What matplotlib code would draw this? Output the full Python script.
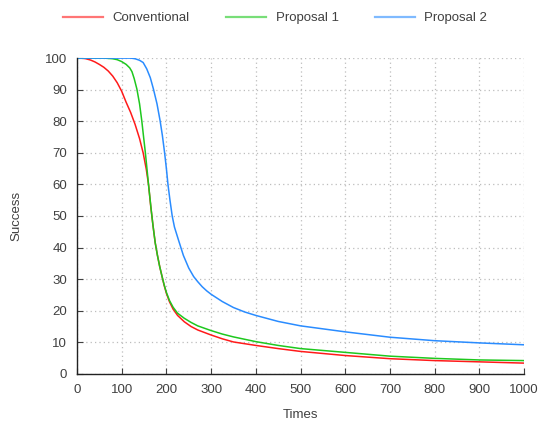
import matplotlib

matplotlib.use("Agg")

import matplotlib.pyplot as plt

# values
conv_x = [0, 10, 20, 30, 40, 50, 60, 70, 80, 90, 100, 110, 120, 130, 140, 148, 155, 160,
          165, 170, 175, 180, 185, 190, 195, 200, 207, 215, 225, 240, 255, 270, 300, 325,
          350, 400, 450, 500, 600, 700, 800, 900, 1000]
conv_y = [100, 100, 99.8, 99.4, 98.8, 98.0, 97.1, 95.9, 94.3, 92.2, 89.5, 86.0, 82.8,
          79.0, 74.5, 70.0, 64.8, 60.0, 53.0, 47.0, 41.5, 37.5, 34.0, 31.0, 28.0, 25.5,
          22.8, 20.5, 18.5, 16.5, 15.0, 13.9, 12.3, 11.1, 10.1, 9.0, 8.0, 7.1, 5.8, 4.8,
          4.2, 3.8, 3.4]

prop1_x = [0, 60, 70, 80, 90, 100, 110, 118, 123, 128, 134, 140, 145, 149, 153, 156.5,
           160, 163, 166, 170, 175, 180, 185, 190, 195, 200, 207, 215, 225, 240, 255, 270,
           300, 325, 350, 400, 450, 500, 600, 700, 800, 900, 1000]
prop1_y = [100, 100, 99.9, 99.8, 99.5, 98.9, 98.0, 96.9, 95.7, 93.5, 90.2, 85.5, 80.1,
           75.0, 70.0, 65.0, 60.0, 56.0, 52.0, 47.0, 41.5, 37.5, 34.0, 31.0, 28.2,
           25.8, 23.2, 21.1, 19.2, 17.6, 16.3, 15.2, 13.7, 12.6, 11.7, 10.2, 9.0, 8.0,
           6.8, 5.6, 4.9, 4.4, 4.2]

prop2_x = [0, 120, 130, 140, 148, 156, 164, 171, 179, 186, 191, 196, 200, 203.5,
           208, 213, 218, 227, 238, 250, 261, 270, 280, 290, 300, 325, 350, 375, 400, 450,
           500, 600, 700, 800, 900, 1000]
prop2_y = [100, 100, 99.8, 99.3, 98.6, 96.6, 93.8, 90.2, 85.5, 80.1, 75.5, 70.0, 65.0,
           60.0, 55.0, 50.0, 46.5, 42.4, 37.5, 33.5, 30.8, 29.2, 27.6, 26.3,
           25.2, 22.9, 21.0, 19.6, 18.5, 16.6, 15.2, 13.3, 11.6, 10.5, 9.8, 9.2]

x_ticks = list(range(0, 1001, 100))
y_ticks = list(range(0, 101, 10))

plt.rcParams["font.family"] = ["Liberation Sans", "DejaVu Sans"]
plt.rcParams["font.size"] = 9.5

fig = plt.figure(figsize=(5.42, 4.21), dpi=100)
ax = fig.add_axes([0.142, 0.112, 0.825, 0.750])

ax.plot(conv_x, conv_y, color="#ff1a1a", lw=1.1, label="Conventional")
ax.plot(prop1_x, prop1_y, color="#1ec81e", lw=1.1, label="Proposal 1")
ax.plot(prop2_x, prop2_y, color="#2a8cff", lw=1.1, label="Proposal 2")

ax.set_xlim(0, 1000)
ax.set_ylim(0, 100)
ax.set_xticks(x_ticks)
ax.set_yticks(y_ticks)
ax.grid(True, color="#bdbdbd", linestyle=(0, (1, 2.5)), linewidth=0.9)
ax.tick_params(direction="in", length=4, width=0.8, pad=7, colors="#404040",
               labelcolor="#404040")
for side in ("top", "right"):
    ax.spines[side].set_visible(False)
for side in ("left", "bottom"):
    ax.spines[side].set_color("#222222")
    ax.spines[side].set_linewidth(1.0)

ax.set_xlabel("Times", color="#404040", labelpad=10)
ax.set_ylabel("Success", color="#404040", labelpad=16)

leg = fig.legend(loc="center", bbox_to_anchor=(0.508, 0.957), ncol=3, frameon=False,
                 handlelength=3.0, handletextpad=0.75, columnspacing=2.75)
for line in leg.get_lines():
    line.set_alpha(0.6)
    line.set_linewidth(1.6)
for text in leg.get_texts():
    text.set_color("#404040")

fig.savefig("out.png", dpi=100)
plt.close(fig)
